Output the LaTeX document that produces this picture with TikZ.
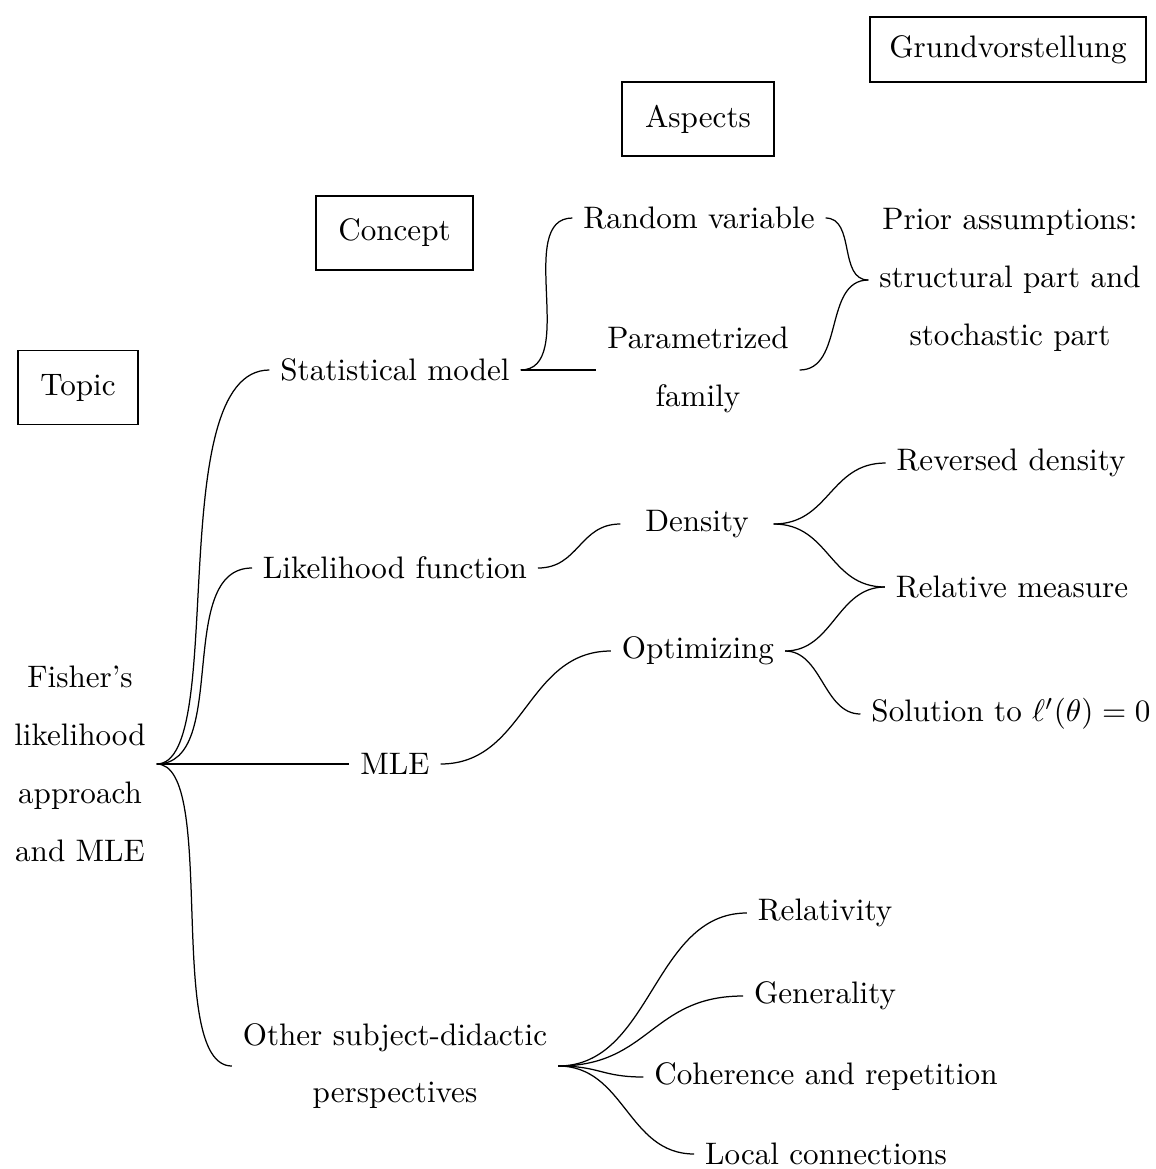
\documentclass[tikz,border=0pt]{standalone}
\begin{document}
\begin{tikzpicture}[
  x=0.32154pt, y=-0.32154pt,
  every node/.style={font=\fontsize{10pt}{18.6pt}\selectfont},
  leaf/.style={inner sep=3.33pt, align=center},
  label box/.style={draw, line width=0.5pt, inner sep=0pt, minimum height=23.8pt},
  link/.style={line width=0.4pt}
]
\useasboundingbox (0,0) rectangle (1156,1169);

% level labels
\node[label box, minimum width=88.7pt, minimum height=20.9pt] (lvgv) at (1008,49.5) {Grundvorstellung};
\node[label box, minimum width=48.9pt] (lvasp) at (698,119) {Aspects};
\node[label box, minimum width=50.5pt] (lvcon) at (394.5,233) {Concept};
\node[label box, minimum width=38.6pt] (lvtop) at (78,387.5) {Topic};

% topic
\node[leaf] (fisher) at (80,764) {Fisher's\\likelihood\\approach\\and MLE};

% concepts
\node[leaf] (stat)  at (395,370)  {Statistical model};
\node[leaf] (lik)   at (395,568)  {Likelihood function};
\node[leaf] (mle)   at (395,764)  {MLE};
\node[leaf] (other) at (395,1066) {Other subject-didactic\\perspectives};

% aspects
\node[leaf] (rv)    at (699,218) {Random variable};
\node[leaf] (param) at (698,370) {Parametrized\\family};
\node[leaf, minimum width=48.9pt] (dens) at (697,524) {Density};
\node[leaf] (opt)   at (698,651) {Optimizing};

% basic ideas
\node[leaf] (prior) at (1010,280) {Prior assumptions:\\structural part and\\stochastic part};
\node[leaf] (rev)   at (1011,463) {Reversed density};
\node[leaf] (rel)   at (1012,587) {Relative measure};
\node[leaf] (sol)   at (1011,714) {Solution to $\ell'(\theta)=0$};
\node[leaf] (relat) at (825,913)  {Relativity};
\node[leaf] (gen)   at (825,996)  {Generality};
\node[leaf] (coh)   at (826,1077) {Coherence and repetition};
\node[leaf] (loc)   at (826,1154) {Local connections};

% topic to concepts
\draw[link] (fisher.east) .. controls +(72,0) and +(-108,0) .. (stat.west);
\draw[link] (fisher.east) .. controls +(74,0) and +(-78,0) .. (lik.west);
\draw[link] (fisher.east) -- (mle.west);
\draw[link] (fisher.east) .. controls +(62,0) and +(-68,0) .. (other.west);

% concepts to aspects
\draw[link] (stat.east) .. controls +(58,0) and +(-58,0) .. (rv.west);
\draw[link] (stat.east) -- (param.west);
\draw[link] (lik.east) .. controls +(41,0) and +(-41,0) .. (dens.west);
\draw[link] (mle.east) .. controls +(85,0) and +(-85,0) .. (opt.west);

% aspects to basic ideas
\draw[link] (rv.east) .. controls +(30,0) and +(-30,0) .. (prior.west);
\draw[link] (param.east) .. controls +(45,0) and +(-45,0) .. (prior.west);
\draw[link] (dens.east) .. controls +(56,0) and +(-56,0) .. (rev.west);
\draw[link] (dens.east) .. controls +(56,0) and +(-56,0) .. (rel.west);
\draw[link] (opt.east) .. controls +(48,0) and +(-48,0) .. (rel.west);
\draw[link] (opt.east) .. controls +(37,0) and +(-37,0) .. (sol.west);

% other perspectives
\draw[link] (other.east) .. controls +(94,0) and +(-94,0) .. (relat.west);
\draw[link] (other.east) .. controls +(92,0) and +(-92,0) .. (gen.west);
\draw[link] (other.east) .. controls +(42,0) and +(-42,0) .. (coh.west);
\draw[link] (other.east) .. controls +(67,0) and +(-67,0) .. (loc.west);
\end{tikzpicture}
\end{document}
